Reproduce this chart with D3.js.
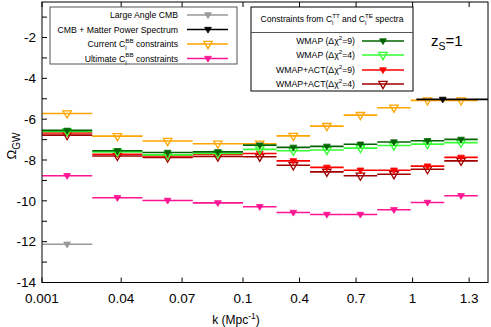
<!DOCTYPE html>
<html><head><meta charset="utf-8">
<script src="https://cdn.jsdelivr.net/npm/d3@7"></script>
<style>
html,body{margin:0;padding:0;background:#fff;}
svg{display:block;font-family:"Liberation Sans",Arial,sans-serif;}
</style></head>
<body><svg id="c" width="491" height="327"></svg>
<script>
// ---- data ----
const binEdges = [0.001, 0.02575, 0.0505, 0.07525, 0.1, 0.278, 0.456, 0.634, 0.812, 0.99, 1.168, 1.346];
const xTickValues = [0.001, 0.04, 0.07, 0.1, 0.4, 0.7, 1, 1.3];
const xTickLabels = ["0.001", "0.04", "0.07", "0.1", "0.4", "0.7", "1", "1.3"];
const yTickValues = [-14,-13,-12,-11,-10,-9,-8,-7,-6,-5,-4,-3,-2,-1];
const yLabelValues = [-14,-12,-10,-8,-6,-4,-2];

const largeAngle = [-12.13, null, null, null, null, null, null, null, null, null, null];
const cmbMatterRange = [1.02, 1.16, 1.4];   // [k low, k marker, k high]
const cmbMatterValue = -5.03;
const currentBB  = [-5.72, -6.83, -7.07, -7.2, -7.2, -6.82, -6.34, -5.8, -5.44, -5.08, -5.08];
const ultimateBB = [-8.77, -9.85, -9.98, -10.1, -10.29, -10.57, -10.67, -10.67, -10.44, -10.08, -9.75];
const wmap9      = [-6.55, -7.55, -7.63, -7.6, -7.27, -7.38, -7.33, -7.23, -7.12, -7.06, -6.99];
const wmap4      = [-6.6, -7.6, -7.75, -7.68, -7.48, -7.55, -7.51, -7.42, -7.29, -7.22, -7.15];
const wmapAct9   = [-6.68, -7.72, -7.8, -7.73, -7.68, -8.04, -8.36, -8.5, -8.5, -8.3, -7.87];
const wmapAct4   = [-6.78, -7.8, -7.88, -7.83, -7.84, -8.26, -8.58, -8.77, -8.7, -8.45, -8.04];

// ---- layout ----
const L = 42, R = 488, T = 2, B = 282.5;
const svg = d3.select("#c");
const x = d3.scaleLinear().domain([0.001, 0.1, 1.4]).range([L, 243, R]);
const y = d3.scaleLinear().domain([-14, -0.26]).range([B, T]);

const series = [
  {name:"largeAngle", vals:largeAngle, color:"#999999", open:false},
  {name:"ultimate", vals:ultimateBB, color:"#ff1493", open:false},
  {name:"current", vals:currentBB, color:"#ffa500", open:true},
  {name:"act4", vals:wmapAct4, color:"#a00000", open:true},
  {name:"act9", vals:wmapAct9, color:"#ff0000", open:false},
  {name:"wmap4", vals:wmap4, color:"#33ff33", open:true},
  {name:"wmap9", vals:wmap9, color:"#006400", open:false}
];

function tri(cx, cy, open){
  if(open){
    const w=4.2, t=2.6, b=4.6;
    return `M${cx-w},${cy-t}L${cx+w},${cy-t}L${cx},${cy+b}Z`;
  } else {
    const w=3.4, t=2.2, b=3.6;
    return `M${cx-w},${cy-t}L${cx+w},${cy-t}L${cx},${cy+b}Z`;
  }
}

const clip = svg.append("clipPath").attr("id","pc").append("rect")
  .attr("x",L).attr("y",T).attr("width",R-L).attr("height",B-T);
const plot = svg.append("g").attr("clip-path","url(#pc)");

series.forEach(s=>{
  const g = plot.append("g");
  s.vals.forEach((v,i)=>{
    if(v==null) return;
    const x0 = x(binEdges[i]), x1 = x(binEdges[i+1]), yy = y(v);
    g.append("line").attr("x1",x0).attr("x2",x1).attr("y1",yy).attr("y2",yy)
      .attr("stroke",s.color).attr("stroke-width",1.6);
    g.append("path").attr("d",tri((x0+x1)/2, yy, s.open))
      .attr("fill",s.open?"none":s.color).attr("stroke",s.color).attr("stroke-width",s.open?1.3:0.8);
  });
});
// CMB + matter power spectrum
{
  const yy = y(cmbMatterValue);
  plot.append("line").attr("x1",x(cmbMatterRange[0])).attr("x2",x(cmbMatterRange[2]))
    .attr("y1",yy).attr("y2",yy).attr("stroke","#000").attr("stroke-width",1.6);
  plot.append("path").attr("d",tri(x(cmbMatterRange[1]), yy, false)).attr("fill","#000").attr("stroke","#000").attr("stroke-width",0.8);
}

// ---- axes ----
const ax = svg.append("g");
ax.append("rect").attr("x",L).attr("y",T).attr("width",R-L).attr("height",B-T)
  .attr("fill","none").attr("stroke","#000").attr("stroke-width",1);
xTickValues.forEach((v,i)=>{
  const xx = x(v);
  ax.append("line").attr("x1",xx).attr("x2",xx).attr("y1",B).attr("y2",B-5).attr("stroke","#000");
  ax.append("line").attr("x1",xx).attr("x2",xx).attr("y1",T).attr("y2",T+5).attr("stroke","#000");
  ax.append("text").attr("x",xx).attr("y",B+20).attr("text-anchor","middle")
    .attr("font-size",13.5).text(xTickLabels[i]);
});
yTickValues.forEach(v=>{
  const yy = y(v);
  ax.append("line").attr("x1",L).attr("x2",L+5).attr("y1",yy).attr("y2",yy).attr("stroke","#000");
});
yLabelValues.forEach(v=>{
  ax.append("text").attr("x",36).attr("y",y(v)+4.8).attr("text-anchor","end")
    .attr("font-size",13.5).text(v);
});
// axis titles
const xl = svg.append("text").attr("x",236).attr("y",323.5).attr("text-anchor","middle").attr("font-size",12);
xl.append("tspan").text("k (Mpc");
xl.append("tspan").attr("dy",-5).attr("font-size",8.5).text("-1");
xl.append("tspan").attr("dy",5).text(")");
const yl = svg.append("text").attr("transform","translate(16,146) rotate(-90)").attr("text-anchor","middle").attr("font-size",13);
yl.append("tspan").text("Ω");
yl.append("tspan").attr("dy",4).attr("font-size",10).text("GW");

// ---- left legend ----
const lg = svg.append("g");
lg.append("rect").attr("x",50).attr("y",7).attr("width",187).attr("height",57)
  .attr("fill","#fff").attr("stroke","#555").attr("stroke-width",1);
const leftItems = [
  {parts:[["Large Angle CMB"]], color:"#999999", open:false, yc:15},
  {parts:[["CMB + Matter Power Spectrum"]], color:"#000000", open:false, yc:29.5},
  {parts:[["Current C"],["l","sub"],["BB","sup"],[" constraints"]], color:"#ffa500", open:true, yc:44},
  {parts:[["Ultimate C"],["l","sub"],["BB","sup"],[" constraints"]], color:"#ff1493", open:false, yc:58.5}
];
function richText(g, xx, yy, parts, fs, anchor){
  const t = g.append("text").attr("x",xx).attr("y",yy).attr("text-anchor",anchor).attr("font-size",fs);
  let prevShift = 0, prevWasSub = false;
  parts.forEach(p=>{
    const ts = t.append("tspan").text(p[0]);
    if(p[1]==="sub"){ ts.attr("dy",3-prevShift).attr("font-size",fs*0.72); prevShift=3; prevWasSub=true; }
    else if(p[1]==="sup"){
      if(prevWasSub){ ts.attr("dx",-fs*0.72*0.22).attr("dy",-7.5); prevShift=-4.5; }
      else { ts.attr("dy",-4.5-prevShift); prevShift=-4.5; }
      ts.attr("font-size",fs*0.72); prevWasSub=false;
    }
    else { ts.attr("dy",-prevShift); prevShift=0; prevWasSub=false; }
  });
  return t;
}
leftItems.forEach(it=>{
  richText(lg, 178, it.yc+3.2, it.parts, 8.7, "end");
  lg.append("line").attr("x1",187).attr("x2",228).attr("y1",it.yc).attr("y2",it.yc).attr("stroke",it.color).attr("stroke-width",1.6);
  lg.append("path").attr("d",tri(208, it.yc, it.open)).attr("fill",it.open?"none":it.color).attr("stroke",it.color).attr("stroke-width",it.open?1.3:0.8);
});

// ---- right legend ----
const rg = svg.append("g");
rg.append("rect").attr("x",251).attr("y",7).attr("width",162).attr("height",84)
  .attr("fill","#fff").attr("stroke","#000").attr("stroke-width",1);
rg.append("line").attr("x1",251).attr("x2",413).attr("y1",32.5).attr("y2",32.5).attr("stroke","#555");
richText(rg, 332, 22, [["Constraints from C"],["l","sub"],["TT","sup"],[" and C"],["l","sub"],["TE","sup"],[" spectra"]], 8.6, "middle");
const rightItems = [
  {label:"WMAP (Δχ", suffix:"=9)", color:"#006400", open:false, yc:41},
  {label:"WMAP (Δχ", suffix:"=4)", color:"#33ff33", open:true, yc:55},
  {label:"WMAP+ACT(Δχ", suffix:"=9)", color:"#ff0000", open:false, yc:70},
  {label:"WMAP+ACT(Δχ", suffix:"=4)", color:"#a00000", open:true, yc:84}
];
rightItems.forEach(it=>{
  richText(rg, 355, it.yc+3.1, [[it.label],["2","sup"],[it.suffix]], 8.7, "end");
  rg.append("line").attr("x1",362).attr("x2",404).attr("y1",it.yc).attr("y2",it.yc).attr("stroke",it.color).attr("stroke-width",1.6);
  rg.append("path").attr("d",tri(383, it.yc, it.open)).attr("fill",it.open?"none":it.color).attr("stroke",it.color).attr("stroke-width",it.open?1.3:0.8);
});

// z_S = 1
const zt = svg.append("text").attr("x",431).attr("y",46).attr("font-size",15);
zt.append("tspan").text("z");
zt.append("tspan").attr("dy",4).attr("font-size",10.5).text("S");
zt.append("tspan").attr("dy",-4).text("=1");
</script></body></html>
